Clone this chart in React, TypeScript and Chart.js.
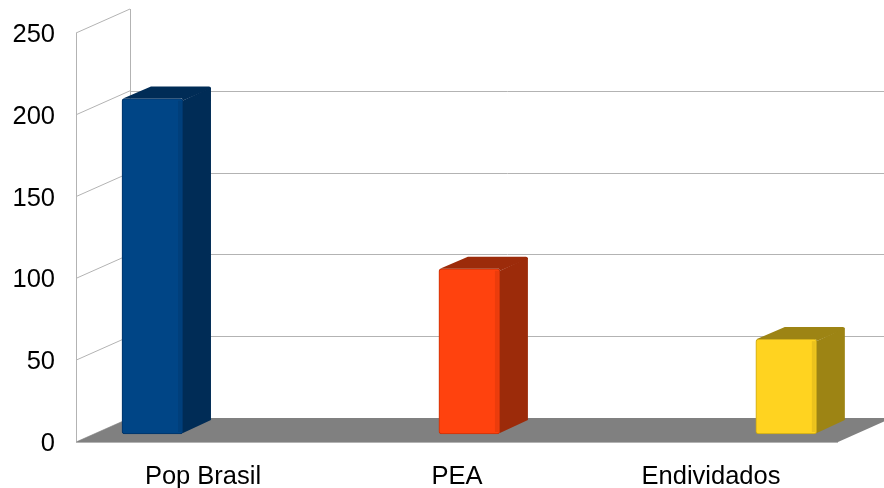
import React, { useEffect, useRef } from "react";
import { Chart, registerables } from "chart.js";

Chart.register(...registerables);

const categories = ["Pop Brasil", "PEA", "Endividados"];
const values = [205, 101, 58];
const yTicks = [0, 50, 100, 150, 200, 250];
const frontColors = ["#004586", "#ff420e", "#ffd320"];
const sideColors = ["#002c56", "#9c2b0a", "#9d8414"];
const edgeColors = ["#003366", "#c9330a", "#c9a718"];

const WALL_DX = 54;
const WALL_DY = -24;
const BAR_DX = 28;
const BAR_DY = -12;
const GRID = "#b3b3b3";
const FLOOR = "#808080";

const threeD = {
  id: "threeD",
  beforeDatasetsDraw(chart: any) {
    const { ctx, chartArea, scales } = chart;
    const y = scales.y;
    const { left, right } = chartArea;
    const y0 = y.getPixelForValue(0);
    const yMax = y.getPixelForValue(yTicks[yTicks.length - 1]);
    ctx.save();
    ctx.strokeStyle = GRID;
    ctx.lineWidth = 1;
    yTicks.forEach((v, i) => {
      if (i === 0 || i === yTicks.length - 1) return;
      const py = Math.round(y.getPixelForValue(v) + WALL_DY) + 0.5;
      ctx.beginPath();
      ctx.moveTo(left + WALL_DX, py);
      ctx.lineTo(right + WALL_DX + 10, py);
      ctx.stroke();
    });
    ctx.beginPath();
    ctx.moveTo(Math.round(left) + 0.5, yMax);
    ctx.lineTo(Math.round(left) + 0.5, y0);
    ctx.moveTo(Math.round(left + WALL_DX) + 0.5, yMax + WALL_DY);
    ctx.lineTo(Math.round(left + WALL_DX) + 0.5, y0 + WALL_DY);
    ctx.stroke();
    yTicks.forEach((v) => {
      const py = y.getPixelForValue(v);
      ctx.beginPath();
      ctx.moveTo(left, py);
      ctx.lineTo(left + WALL_DX, py + WALL_DY);
      ctx.stroke();
    });
    ctx.fillStyle = FLOOR;
    ctx.beginPath();
    ctx.moveTo(left, y0);
    ctx.lineTo(right, y0);
    ctx.lineTo(right + WALL_DX, y0 + WALL_DY);
    ctx.lineTo(left + WALL_DX, y0 + WALL_DY);
    ctx.closePath();
    ctx.fill();
    ctx.beginPath();
    ctx.moveTo(left, Math.round(y0) + 0.5);
    ctx.lineTo(right, Math.round(y0) + 0.5);
    ctx.stroke();
    ctx.restore();
  },
  afterDatasetsDraw(chart: any) {
    const { ctx } = chart;
    const meta = chart.getDatasetMeta(0);
    ctx.save();
    meta.data.forEach((bar: any, i: number) => {
      const { x, y, base, width } = bar.getProps(["x", "y", "base", "width"], true);
      const l = x - width / 2;
      const r = x + width / 2;
      ctx.fillStyle = sideColors[i];
      ctx.beginPath();
      ctx.moveTo(r, y + 2);
      ctx.lineTo(r + BAR_DX, y + BAR_DY + 1);
      ctx.quadraticCurveTo(r + BAR_DX, y + BAR_DY, r + BAR_DX, y + BAR_DY + 2);
      ctx.lineTo(r + BAR_DX, base + BAR_DY - 2);
      ctx.lineTo(r, base - 1);
      ctx.closePath();
      ctx.fill();
      ctx.beginPath();
      ctx.moveTo(l + 1, y);
      ctx.lineTo(l + BAR_DX + 1, y + BAR_DY);
      ctx.lineTo(r + BAR_DX - 2, y + BAR_DY);
      ctx.quadraticCurveTo(r + BAR_DX, y + BAR_DY, r + BAR_DX, y + BAR_DY + 2);
      ctx.lineTo(r, y + 2);
      ctx.lineTo(r - 1, y);
      ctx.closePath();
      ctx.fill();
      ctx.fillStyle = "rgba(0,0,0,0.08)";
      ctx.fillRect(r - 5, y + 2, 4, base - y - 4);
    });
    ctx.restore();
  },
};

export default function App() {
  const ref = useRef<HTMLCanvasElement>(null);
  useEffect(() => {
    document.body.style.margin = "0";
    const chart = new Chart(ref.current!, {
      type: "bar",
      data: {
        labels: categories,
        datasets: [
          {
            data: values.map((v, i) => ({ x: i, y: v })) as any,
            xAxisID: "xb",
            yAxisID: "yb",
            backgroundColor: frontColors,
            borderColor: edgeColors,
            borderWidth: 1,
            borderRadius: 3,
            borderSkipped: false,
            barThickness: 61,
          },
        ],
      },
      options: {
        animation: false,
        responsive: true,
        maintainAspectRatio: false,
        layout: { padding: { top: 33, right: 46, left: 0, bottom: 0 } },
        plugins: { legend: { display: false }, tooltip: { enabled: false } },
        scales: {
          x: {
            type: "category",
            offset: true,
            grid: { display: false, drawTicks: false },
            border: { display: false },
            ticks: {
              color: "#000",
              padding: 20,
              font: { family: "Liberation Sans", size: 25.5 },
            },
            afterFit: (s: any) => {
              s.height = 46;
              s.paddingLeft = 0;
              s.paddingRight = 0;
            },
          },
          y: {
            type: "linear",
            min: 0,
            max: 250,
            grid: { display: false, drawTicks: false },
            border: { display: false },
            ticks: {
              stepSize: 50,
              color: "#000",
              padding: 21,
              labelOffset: 2,
              font: { family: "Liberation Sans", size: 25.5 },
            },
            afterFit: (s: any) => {
              s.width = 76;
              s.paddingTop = 0;
              s.paddingBottom = 0;
            },
          },
          xb: {
            type: "linear",
            display: false,
            offset: false,
            bounds: "ticks",
            min: -0.2413,
            max: 2.163,
          },
          yb: {
            type: "linear",
            display: false,
            min: -4.89,
            max: 245.11,
          },
        },
      },
      plugins: [threeD],
    });
    return () => chart.destroy();
  }, []);
  return (
    <div style={{ width: 884, height: 488, position: "relative" }}>
      <canvas ref={ref} />
    </div>
  );
}
